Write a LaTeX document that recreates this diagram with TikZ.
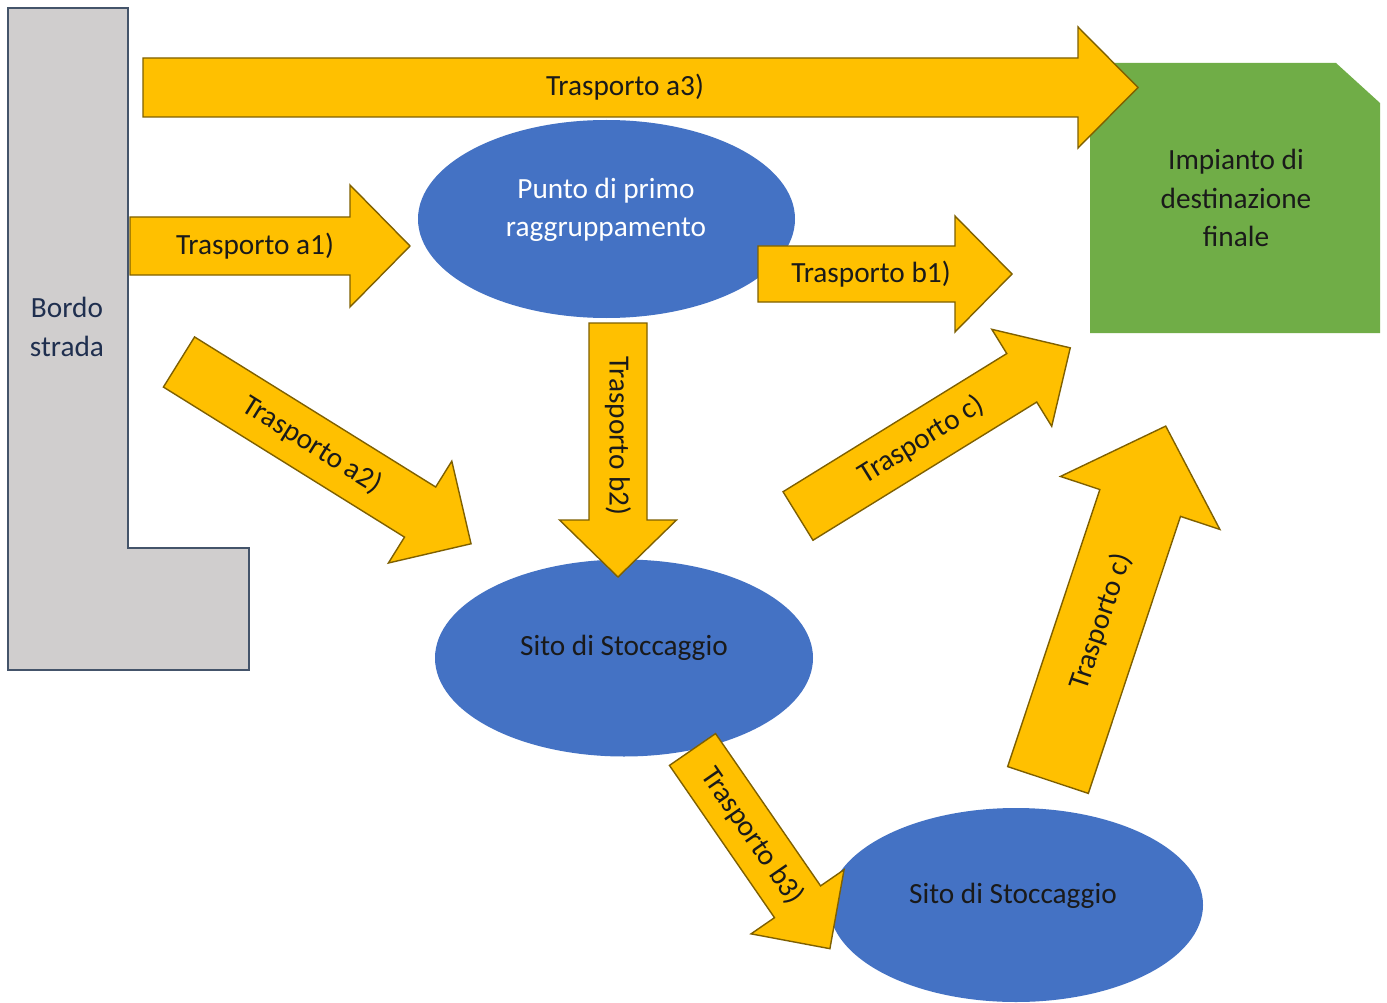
\documentclass[tikz,border=0pt]{standalone}
\usepackage{fontspec}
\setmainfont{Carlito}
\usetikzlibrary{shapes.geometric}
\definecolor{arrowfill}{HTML}{FFC000}
\definecolor{arrowline}{HTML}{7F6000}
\definecolor{blueell}{HTML}{4472C4}
\definecolor{greenbox}{HTML}{70AD47}
\definecolor{greyfill}{HTML}{D0CECE}
\definecolor{greyline}{HTML}{44546A}
\definecolor{navytext}{HTML}{1F2F4F}
\definecolor{darktext}{HTML}{1A1A1A}
% #1 name, #2 tail centre, #3 angle, #4 length, #5 shaft width, #6 head width, #7 head length, #8 text pos, #9 text
\newcommand\blockarrow[9]{%
  \begin{scope}[shift={#2}, rotate=#3]
    \draw[arrowbox] (0,{-#5/2}) -- ({#4-#7},{-#5/2}) -- ({#4-#7},{-#6/2}) -- (#4,0)
      -- ({#4-#7},{#6/2}) -- ({#4-#7},{#5/2}) -- (0,{#5/2}) -- cycle;
    \node[arrowtext, rotate=#3] (#1) at (#8,0) {#9};
  \end{scope}}
\begin{document}
\begin{tikzpicture}[x=1pt, y=-1pt,
  font=\fontsize{29.3}{38}\selectfont,
  arrowbox/.style={fill=arrowfill, draw=arrowline, line width=1.4pt, line join=miter},
  arrowtext/.style={inner sep=0pt, text=darktext},
  blob/.style={ellipse, fill=blueell, draw=none, inner sep=0pt},
  roadside/.style={fill=greyfill, draw=greyline, line width=1.6pt},
  plant/.style={fill=greenbox}]
\fill[white] (0,0) rectangle (1387,1003);
\useasboundingbox (0,0) rectangle (1387,1003);

% Bordo strada (L shape)
\draw[roadside] (8,8) -- (128,8) -- (128,548) -- (249,548) -- (249,670) -- (8,670) -- cycle;
\node[align=center, text=navytext, font=\fontsize{29.3}{39}\selectfont] (bordo) at (67,327) {Bordo\\strada};

% Impianto di destinazione finale
\fill[plant] (1090,63) -- (1336,63) -- (1380,103) -- (1380,333) -- (1090,333) -- cycle;
\node[align=center, text=darktext, font=\fontsize{29.3}{38.5}\selectfont] (impianto) at (1236,198) {Impianto di\\destinazione\\finale};

% Ellipses
\node[blob, minimum width=377pt, minimum height=198pt] (primo) at (606.5,219) {};
\node[blob, minimum width=378pt, minimum height=197pt] (sito1) at (624,658) {};
\node[blob, minimum width=374pt, minimum height=194pt] (sito2) at (1016,905) {};

% Arrows
\blockarrow{ta3}{(143,87.5)}{0}{995}{59}{121}{60}{482}{Trasporto a3)}
\blockarrow{ta1}{(130,246)}{0}{280}{58}{122}{60}{125}{Trasporto a1)}
\blockarrow{tb1}{(758,274)}{0}{254}{56}{116}{57}{113}{Trasporto b1)}
\blockarrow{tb2}{(618,323)}{-90}{254}{58}{117}{57}{113}{Trasporto b2)}
\blockarrow{ta2}{(179,362)}{-31.9}{344}{59}{120}{60}{157}{Trasporto a2)}
\blockarrow{tc1}{(798,516)}{31.7}{320}{57}{114}{57}{145}{Trasporto c)}
\blockarrow{tc2}{(1048,780)}{71.6}{373}{85}{168}{81}{167}{Trasporto c)}
\blockarrow{tb3}{(692.5,749.5)}{-55.4}{242}{56}{113}{57}{105}{Trasporto b3)}

% Ellipse texts
\node[align=center, text=white, font=\fontsize{29.3}{38.5}\selectfont] (primotext) at (606,210) {Punto di primo\\raggruppamento};
\node[text=darktext] (sito1text) at (624,648) {Sito di Stoccaggio};
\node[text=darktext] (sito2text) at (1013,896) {Sito di Stoccaggio};
\end{tikzpicture}
\end{document}
